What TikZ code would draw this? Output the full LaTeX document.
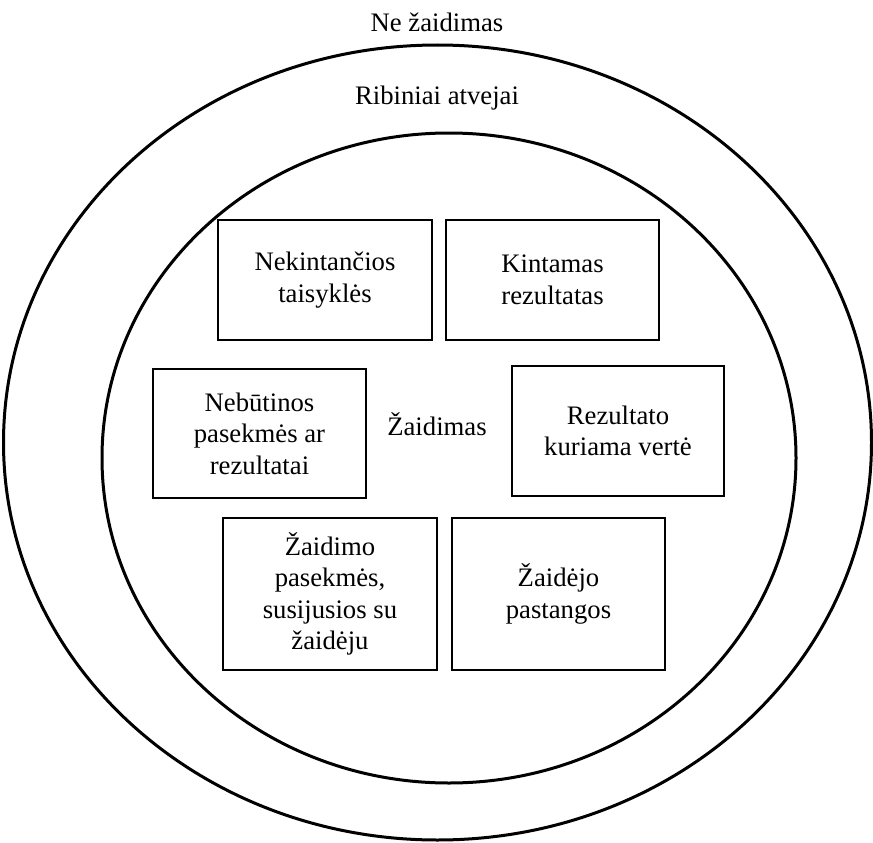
\documentclass[tikz,border=0pt]{standalone}
\usepackage{fontspec}
\setmainfont{Liberation Serif}
\begin{document}
\begin{tikzpicture}[x=1pt,y=1pt,
  ring/.style={line width=3pt},
  label/.style={font=\fontsize{26.7}{31.5}\selectfont, inner sep=0pt, align=center},
  factor/.style={draw, line width=1.4pt, inner sep=0pt, align=center,
    font=\fontsize{26.7}{31.5}\selectfont},
]
\useasboundingbox (0,0) rectangle (873,-843);

% the two nested regions
\draw[ring] (437.5,-442.5) ellipse [x radius=434, y radius=397.5];
\draw[ring] (449,-458) ellipse [x radius=347, y radius=325];

% region titles
\node[label] (nongame) at (437,-22) {Ne žaidimas};
\node[label] (border) at (437,-98) {Ribiniai atvejai};
\node[label] (game) at (437,-424) {Žaidimas};

% the six features of a game
\node[factor, minimum width=214pt, minimum height=120pt] (rules) at (325,-280)
  {Nekintančios\\taisyklės};
\node[factor, minimum width=213pt, minimum height=120pt] (outcome) at (552.5,-280)
  {Kintamas\\rezultatas};
\node[factor, minimum width=213pt, minimum height=129pt] (negotiable) at (259.5,-433.5)
  {Nebūtinos\\pasekmės ar\\rezultatai};
\node[factor, minimum width=212pt, minimum height=130pt] (valued) at (618,-431)
  {Rezultato\\kuriama vertė};
\node[factor, minimum width=214pt, minimum height=152pt] (attached) at (330,-594)
  {Žaidimo\\pasekmės,\\susijusios su\\žaidėju};
\node[factor, minimum width=213pt, minimum height=152pt] (effort) at (558.5,-594)
  {Žaidėjo\\pastangos};
\end{tikzpicture}
\end{document}
